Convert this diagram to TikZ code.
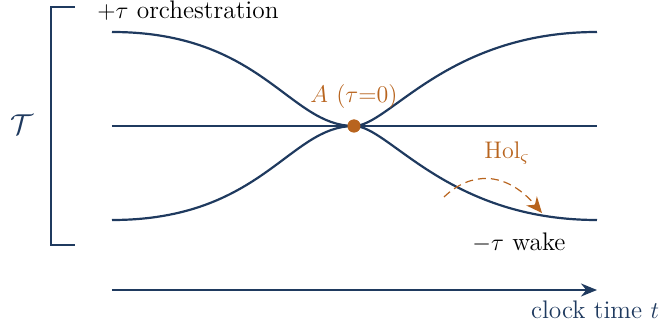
\documentclass[tikz,border=0pt]{standalone}
\usetikzlibrary{arrows.meta}
\definecolor{navy}{RGB}{31,58,95}
\definecolor{ochre}{RGB}{184,100,30}
\begin{document}
\begin{tikzpicture}[x=0.5pt,y=-0.5pt,
  font=\fontsize{12.7}{15}\selectfont,
  curve/.style={navy,line width=1.1pt},
  bracket/.style={navy,line width=1.3pt},
  lbl/.style={inner sep=0pt},
  dot/.style={circle,fill=ochre,inner sep=0pt,minimum size=6.5pt}]
\useasboundingbox (0,0) rectangle (661,326);
% coordinates
\coordinate (TL) at (112,32);
\coordinate (ML) at (112,126);
\coordinate (BL) at (112,220);
\coordinate (TR) at (597,32);
\coordinate (MR) at (597,126);
\coordinate (BR) at (597,220);
\coordinate (bt) at (75,7);
\coordinate (bb) at (75,245);
\coordinate (ct0) at (112,290);
\coordinate (ct1) at (597,290);
\coordinate (h0) at (444,197);
\coordinate (h1) at (542,213);
\node[dot] (A) at (354,126) {};
% bracket
\draw[bracket] (bt) -- (51,7) -- (51,245) -- (bb);
\node[lbl,navy] (T) at (22,125) {\Large$\mathcal{T}$};
% curves
\draw[curve] (ML) -- (MR);
\draw[curve] (TL) .. controls (262,32) and (289,126) .. (A.center);
\draw[curve] (BL) .. controls (262,220) and (289,126) .. (A.center);
\draw[curve] (A.center) .. controls (389,126) and (447,32) .. (TR);
\draw[curve] (A.center) .. controls (389,126) and (447,220) .. (BR);
\node[dot] at (A) {};
% labels
\node[lbl,ochre] (Alab) at (354,97) {$A\ (\tau{=}0)$};
\node[lbl] (orch) at (188,11) {$+\tau$ orchestration};
\node[lbl] (wake) at (519,243) {$-\tau$ wake};
\node[lbl,ochre] (hol) at (507,153) {$\mathrm{Hol}_{\varsigma}$};
\draw[ochre,dash pattern=on 4pt off 2.5pt,line width=0.6pt,-{Stealth[length=8pt,width=7pt]}] (h0) .. controls (470,172) and (505,170) .. (h1);
% clock time
\draw[navy,line width=1.1pt,-{Stealth[length=8pt,width=6.5pt]}] (ct0) -- (ct1);
\node[lbl,navy] (clk) at (595,310) {clock time $t$};
\end{tikzpicture}
\end{document}
